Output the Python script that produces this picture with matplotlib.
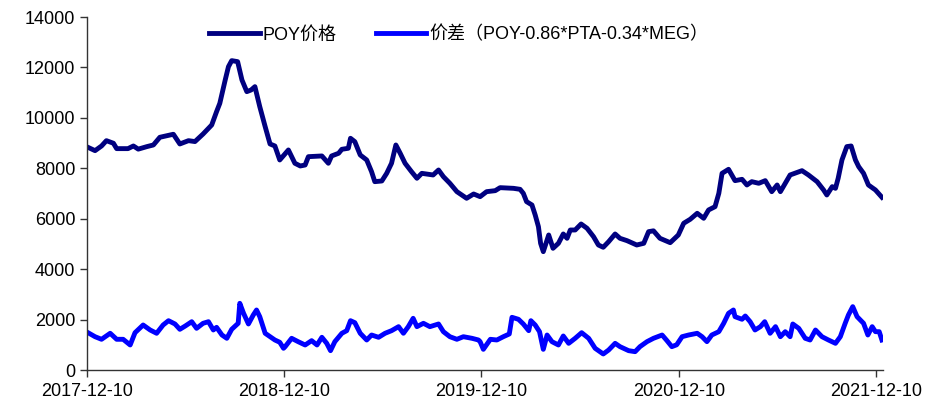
import matplotlib
matplotlib.use("Agg")
import matplotlib.pyplot as plt
import matplotlib.dates as mdates
import pandas as pd

plt.rcParams['font.family'] = ['Liberation Sans', 'Noto Sans CJK SC', 'DejaVu Sans']

# POY价格
poy_dates = [
    "2017-12-12", "2017-12-25", "2018-01-06", "2018-01-15", "2018-01-28", "2018-02-03",
    "2018-02-24", "2018-03-06", "2018-03-15", "2018-03-31", "2018-04-12", "2018-04-24",
    "2018-05-19", "2018-05-31", "2018-06-16", "2018-06-28", "2018-07-13", "2018-07-29",
    "2018-08-07", "2018-08-13", "2018-08-23", "2018-08-29", "2018-09-04", "2018-09-15",
    "2018-09-23", "2018-10-02", "2018-10-10", "2018-10-17", "2018-10-26", "2018-11-05",
    "2018-11-14", "2018-11-23", "2018-12-02", "2018-12-18", "2018-12-30", "2019-01-09",
    "2019-01-18", "2019-01-24", "2019-02-18", "2019-03-02", "2019-03-08", "2019-03-21",
    "2019-03-27", "2019-04-08", "2019-04-12", "2019-04-20", "2019-04-30", "2019-05-12",
    "2019-05-21", "2019-05-27", "2019-06-09", "2019-06-18", "2019-06-27", "2019-07-05",
    "2019-07-13", "2019-07-22", "2019-08-03", "2019-08-13", "2019-08-22", "2019-09-12",
    "2019-09-22", "2019-10-01", "2019-10-13", "2019-10-26", "2019-11-04", "2019-11-13",
    "2019-11-26", "2019-12-08", "2019-12-20", "2020-01-05", "2020-01-14", "2020-02-08",
    "2020-02-20", "2020-02-26", "2020-03-03", "2020-03-13", "2020-03-19", "2020-03-25",
    "2020-03-29", "2020-04-03", "2020-04-13", "2020-04-21", "2020-05-01", "2020-05-10",
    "2020-05-17", "2020-05-23", "2020-06-01", "2020-06-12", "2020-06-23", "2020-07-05",
    "2020-07-14", "2020-07-23", "2020-08-02", "2020-08-14", "2020-08-23", "2020-09-05",
    "2020-09-23", "2020-10-06", "2020-10-15", "2020-10-24", "2020-11-05", "2020-11-24",
    "2020-12-09", "2020-12-19", "2020-12-31", "2021-01-13", "2021-01-25", "2021-02-03",
    "2021-02-15", "2021-02-22", "2021-02-28", "2021-03-12", "2021-03-24", "2021-04-06",
    "2021-04-15", "2021-04-24", "2021-05-07", "2021-05-19", "2021-05-31", "2021-06-10",
    "2021-06-16", "2021-06-25", "2021-07-04", "2021-07-26", "2021-08-07", "2021-08-23",
    "2021-09-04", "2021-09-10", "2021-09-20", "2021-09-26", "2021-10-01", "2021-10-08",
    "2021-10-17", "2021-10-25", "2021-11-02", "2021-11-08", "2021-11-17", "2021-11-26",
    "2021-12-09", "2021-12-21",
]
poy_price = [
    8830, 8700, 8885, 9096, 8993, 8780,
    8780, 8885, 8760, 8860, 8925, 9230,
    9350, 8965, 9096, 9060, 9360, 9718,
    10246, 10577, 11503, 12030, 12270, 12230,
    11503, 11040, 11107, 11238, 10444, 9651,
    8965, 8885, 8330, 8727, 8200, 8092,
    8130, 8461, 8489, 8200, 8489, 8596,
    8754, 8794, 9190, 9056, 8528, 8330,
    7866, 7470, 7497, 7800, 8200, 8925,
    8596, 8200, 7866, 7604, 7800, 7735,
    7933, 7668, 7405, 7073, 6942, 6810,
    6981, 6875, 7073, 7113, 7232, 7205,
    7166, 7007, 6678, 6545, 6148, 5684,
    5025, 4694, 5355, 4827, 5025, 5395,
    5223, 5553, 5553, 5791, 5620, 5288,
    4958, 4867, 5090, 5395, 5223, 5130,
    4958, 5025, 5487, 5520, 5223, 5050,
    5355, 5820, 5977, 6215, 6017, 6347,
    6478, 7007, 7800, 7960, 7510, 7563,
    7338, 7470, 7405, 7510, 7073, 7338,
    7073, 7405, 7735, 7906, 7735, 7470,
    7140, 6942, 7272, 7205, 7604, 8330,
    8860, 8885, 8330, 8065, 7800, 7338,
    7140, 6850,
]

# 价差（POY-0.86*PTA-0.34*MEG）
spread_dates = [
    "2017-12-12", "2017-12-25", "2018-01-06", "2018-01-22", "2018-02-03", "2018-02-15",
    "2018-02-28", "2018-03-09", "2018-03-24", "2018-04-06", "2018-04-18", "2018-04-30",
    "2018-05-10", "2018-05-22", "2018-05-31", "2018-06-10", "2018-06-22", "2018-07-01",
    "2018-07-13", "2018-07-23", "2018-08-01", "2018-08-07", "2018-08-17", "2018-08-26",
    "2018-09-04", "2018-09-16", "2018-09-19", "2018-09-26", "2018-10-05", "2018-10-14",
    "2018-10-20", "2018-10-26", "2018-11-05", "2018-11-14", "2018-11-23", "2018-12-02",
    "2018-12-09", "2018-12-12", "2018-12-24", "2019-01-05", "2019-01-18", "2019-01-30",
    "2019-02-09", "2019-02-18", "2019-02-27", "2019-03-06", "2019-03-14", "2019-03-27",
    "2019-04-05", "2019-04-12", "2019-04-20", "2019-04-30", "2019-05-12", "2019-05-21",
    "2019-06-03", "2019-06-15", "2019-06-27", "2019-07-10", "2019-07-19", "2019-07-28",
    "2019-08-06", "2019-08-13", "2019-08-25", "2019-09-06", "2019-09-22", "2019-10-01",
    "2019-10-13", "2019-10-26", "2019-11-07", "2019-11-23", "2019-12-05", "2019-12-08",
    "2019-12-14", "2019-12-27", "2020-01-08", "2020-01-20", "2020-01-31", "2020-02-05",
    "2020-02-17", "2020-02-26", "2020-03-07", "2020-03-11", "2020-03-19", "2020-03-27",
    "2020-04-03", "2020-04-10", "2020-04-19", "2020-05-01", "2020-05-10", "2020-05-20",
    "2020-06-01", "2020-06-13", "2020-06-26", "2020-07-08", "2020-07-23", "2020-08-02",
    "2020-08-14", "2020-08-23", "2020-09-08", "2020-09-20", "2020-09-29", "2020-10-12",
    "2020-10-24", "2020-11-09", "2020-11-18", "2020-11-27", "2020-12-06", "2020-12-16",
    "2020-12-28", "2021-01-13", "2021-01-22", "2021-01-31", "2021-02-09", "2021-02-22",
    "2021-03-03", "2021-03-12", "2021-03-21", "2021-03-24", "2021-04-06", "2021-04-12",
    "2021-04-21", "2021-04-30", "2021-05-10", "2021-05-18", "2021-05-28", "2021-06-07",
    "2021-06-16", "2021-06-25", "2021-07-04", "2021-07-09", "2021-07-20", "2021-08-01",
    "2021-08-10", "2021-08-20", "2021-09-01", "2021-09-13", "2021-09-26", "2021-10-05",
    "2021-10-14", "2021-10-20", "2021-10-28", "2021-11-05", "2021-11-17", "2021-11-25",
    "2021-12-03", "2021-12-09", "2021-12-16", "2021-12-21",
]
spread = [
    1480, 1321, 1218, 1456, 1218, 1218,
    992, 1480, 1785, 1587, 1456, 1785,
    1956, 1825, 1614, 1745, 1916, 1653,
    1852, 1916, 1587, 1693, 1388, 1257,
    1614, 1852, 2645, 2249, 1825, 2182,
    2380, 2115, 1456, 1321, 1190, 1100,
    860, 926, 1257, 1124, 992, 1164,
    992, 1297, 1058, 767, 1124, 1456,
    1560, 1956, 1877, 1456, 1190, 1388,
    1297, 1456, 1560, 1719, 1456, 1719,
    2050, 1719, 1852, 1719, 1825, 1520,
    1321, 1218, 1321, 1257, 1190, 1124,
    820, 1218, 1190, 1321, 1428, 2090,
    2011, 1825, 1560, 1956, 1785, 1520,
    820, 1388, 1124, 992, 1349, 1058,
    1257, 1480, 1257, 860, 635, 793,
    1058, 926, 767, 727, 926, 1124,
    1257, 1388, 1164, 926, 1000, 1321,
    1388, 1456, 1321, 1124, 1388, 1520,
    1852, 2249, 2380, 2115, 2011, 2142,
    1916, 1587, 1719, 1916, 1456, 1719,
    1321, 1520, 1321, 1825, 1653, 1257,
    1190, 1587, 1321, 1190, 1058, 1321,
    1852, 2182, 2513, 2115, 1852, 1388,
    1719, 1520, 1520, 1190,
]

tick_dates = ["2017-12-10", "2018-12-10", "2019-12-10", "2020-12-10", "2021-12-10"]

fig = plt.figure(figsize=(9.33, 4.07), dpi=100)
ax = fig.add_axes([0.0932, 0.0909, 0.8532, 0.8673])

ax.plot(pd.to_datetime(poy_dates), poy_price, color="#000080", linewidth=3.5,
        solid_joinstyle="round", label="POY价格")
ax.plot(pd.to_datetime(spread_dates), spread, color="#0000FF", linewidth=3.5,
        solid_joinstyle="round", label="价差（POY-0.86*PTA-0.34*MEG）")

ax.set_xlim(pd.Timestamp("2017-12-10"), pd.Timestamp("2021-12-23"))
ax.set_ylim(0, 14000)
ax.set_yticks(range(0, 14001, 2000))
ax.set_xticks(pd.to_datetime(tick_dates))
ax.xaxis.set_major_formatter(mdates.DateFormatter("%Y-%m-%d"))

for side in ["top", "right"]:
    ax.spines[side].set_visible(False)
for side in ["left", "bottom"]:
    ax.spines[side].set_color("#333333")
    ax.spines[side].set_linewidth(1.0)

ax.tick_params(axis="both", direction="out", length=5, width=1.0,
               color="#333333", labelsize=13, labelcolor="black")
ax.tick_params(axis="x", pad=4)

fig.legend(loc="center", bbox_to_anchor=(0.4915, 0.914), ncol=2, frameon=False,
           fontsize=13, handlelength=2.8, handletextpad=0.15, columnspacing=2.2)

fig.savefig("out.png", dpi=100)
